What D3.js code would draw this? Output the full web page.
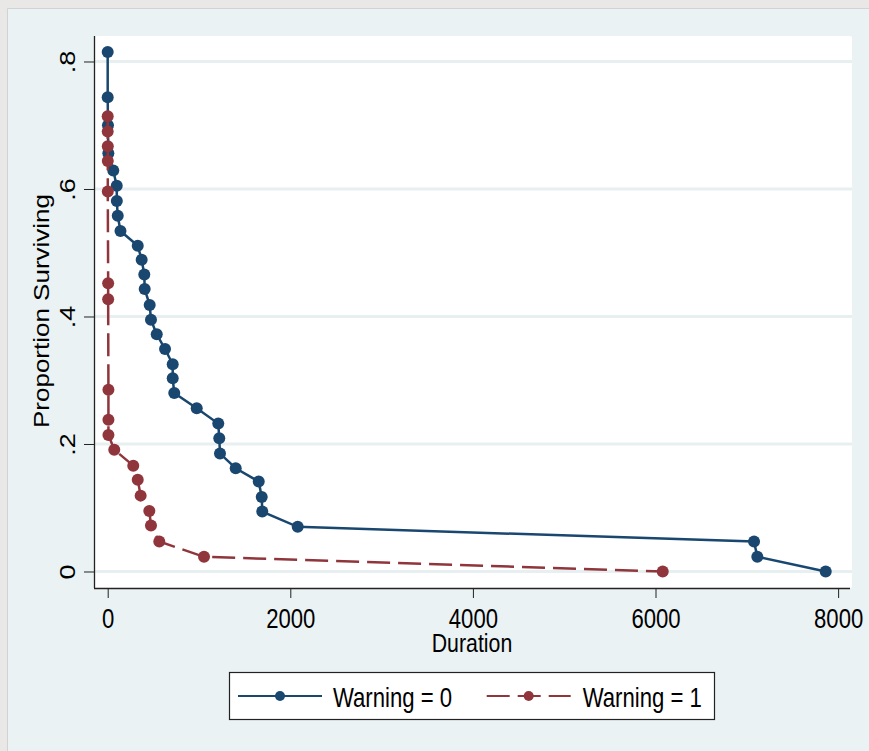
<!DOCTYPE html>
<html>
<head>
<meta charset="utf-8">
<script src="https://cdn.jsdelivr.net/npm/d3@7"></script>
<style>
  body { margin: 0; background: #e9e8e6; }
  svg { display: block; }
  text { font-family: "Liberation Sans", Arial, sans-serif; fill: #000; }
</style>
</head>
<body>
<div id="chart"></div>
<script>
// Kaplan-Meier style survival estimates
const dur0 = [0, 0, 3, 7, 61, 99, 100, 110, 140, 329, 372, 401, 405, 460, 474, 537, 628, 712, 712, 729, 975, 1211, 1222, 1230, 1402, 1654, 1687, 1693, 2081, 7079, 7115, 7864];
const surv0 = [0.815, 0.744, 0.700, 0.656, 0.629, 0.605, 0.581, 0.558, 0.534, 0.511, 0.489, 0.466, 0.443, 0.418, 0.395, 0.372, 0.349, 0.325, 0.303, 0.280, 0.256, 0.232, 0.209, 0.185, 0.162, 0.141, 0.117, 0.094, 0.070, 0.047, 0.023, 0];

const dur1 = [0, 0, 1, 1, 1, 5, 5, 8, 8, 8, 72, 280, 329, 361, 456, 474, 565, 1055, 6079];
const surv1 = [0.714, 0.690, 0.667, 0.644, 0.596, 0.452, 0.427, 0.285, 0.238, 0.214, 0.191, 0.166, 0.144, 0.119, 0.095, 0.072, 0.047, 0.023, 0];

const xTicks = [0, 2000, 4000, 6000, 8000];
const yTicks = [0, 0.2, 0.4, 0.6, 0.8];
const seriesNames = ["Warning = 0", "Warning = 1"];

const navy = "#1a476f";
const maroon = "#90353b";
const squeeze = 0.82;   // the original text is horizontally condensed

const W = 869, H = 751;
const plot = {left: 94, right: 852, top: 36, bottom: 588};

const svg = d3.select("#chart")
    .append("svg")
    .attr("width", W)
    .attr("height", H);

// graph region
svg.append("rect")
    .attr("x", 8).attr("y", 9)
    .attr("width", W - 8).attr("height", H - 9)
    .attr("fill", "#eaf2f3");
svg.append("path")
    .attr("d", `M7.5,${H} V8.5 H${W}`)
    .attr("fill", "none")
    .attr("stroke", "#d2d2d2");

// plot region
svg.append("rect")
    .attr("x", plot.left).attr("y", plot.top)
    .attr("width", plot.right - plot.left)
    .attr("height", plot.bottom - plot.top)
    .attr("rx", 2)
    .attr("fill", "white");

var x = d3.scaleLinear()
    .domain([-150, 8152])
    .range([plot.left, plot.right]);

var y = d3.scaleLinear()
    .domain([-0.0259, 0.840])
    .range([plot.bottom, plot.top]);

// gridlines
svg.append("g")
    .selectAll("line")
    .data(yTicks)
    .join("line")
    .attr("x1", plot.left)
    .attr("x2", plot.right)
    .attr("y1", d => y(d))
    .attr("y2", d => y(d))
    .attr("stroke", "#e7eff1")
    .attr("stroke-width", 3);

var xAxis = d3.axisBottom(x)
    .tickValues(xTicks)
    .tickSize(10)
    .tickPadding(11)
    .tickFormat(d3.format("d"));

var yAxis = d3.axisLeft(y)
    .tickValues(yTicks)
    .tickSize(10)
    .tickFormat(d => d === 0 ? "0" : d3.format(".1f")(d).replace(/^0/, ""));

svg.append("g")
    .attr("transform", `translate(0, ${plot.bottom})`)
    .call(xAxis)
    .call(g => g.select(".domain")
        .attr("d", `M${plot.left},0.5 H${plot.right - 2}`)
        .attr("stroke", "#222")
        .attr("stroke-width", 1.3))
    .call(g => g.selectAll(".tick line").attr("stroke", "#222"))
    .call(g => g.selectAll(".tick text")
        .attr("font-size", 27)
        .attr("font-family", "Liberation Sans, Arial, sans-serif")
        .attr("transform", `scale(${squeeze},1)`));

svg.append("g")
    .attr("transform", `translate(${plot.left}, 0)`)
    .call(yAxis)
    .call(g => g.select(".domain")
        .attr("d", `M0.5,${plot.top} V${plot.bottom}`)
        .attr("stroke", "#222")
        .attr("stroke-width", 1.3))
    .call(g => g.selectAll(".tick line").attr("stroke", "#222"))
    .call(g => g.selectAll(".tick text")
        .attr("x", 0).attr("y", 0).attr("dy", 0)
        .attr("text-anchor", "middle")
        .attr("font-size", 27)
        .attr("font-family", "Liberation Sans, Arial, sans-serif")
        .attr("transform", `translate(-19.5,0) scale(${squeeze},1) rotate(-90)`));

// axis titles
svg.append("text")
    .attr("transform", `translate(49, 311) scale(${squeeze},1) rotate(-90)`)
    .attr("text-anchor", "middle")
    .attr("font-size", 26)
    .text("Proportion Surviving");

svg.append("text")
    .attr("transform", `translate(472, 652) scale(${squeeze},1)`)
    .attr("text-anchor", "middle")
    .attr("font-size", 26)
    .text("Duration");

// survival curves
const data0 = dur0.map((d, i) => ({t: d, s: surv0[i]}));
const data1 = dur1.map((d, i) => ({t: d, s: surv1[i]}));

const line = d3.line()
    .x(d => x(d.t))
    .y(d => y(d.s));

function drawSeries(data, color, dash) {
    svg.append("path")
        .datum(data)
        .attr("fill", "none")
        .attr("stroke", color)
        .attr("stroke-width", 2.5)
        .attr("stroke-dasharray", dash)
        .attr("d", line);

    svg.append("g")
        .selectAll("circle")
        .data(data)
        .join("circle")
        .attr("cx", d => x(d.t))
        .attr("cy", d => y(d.s))
        .attr("r", 6)
        .attr("fill", color);
}

drawSeries(data0, navy, null);
drawSeries(data1, maroon, "23,8");

// legend
const legend = svg.append("g");
legend.append("rect")
    .attr("x", 229.5).attr("y", 672.5)
    .attr("width", 485).attr("height", 47)
    .attr("fill", "white")
    .attr("stroke", "#222")
    .attr("stroke-width", 1.2);

const legendItems = [
    {name: seriesNames[0], color: navy, dash: null, x0: 238, tx: 333},
    {name: seriesNames[1], color: maroon, dash: "23,8", x0: 486.7, tx: 582.7}
];

legendItems.forEach(item => {
    legend.append("line")
        .attr("x1", item.x0).attr("x2", item.x0 + 84)
        .attr("y1", 696).attr("y2", 696)
        .attr("stroke", item.color)
        .attr("stroke-width", 2.2)
        .attr("stroke-dasharray", item.dash);
    legend.append("circle")
        .attr("cx", item.x0 + 42).attr("cy", 696)
        .attr("r", 5)
        .attr("fill", item.color);
    legend.append("text")
        .attr("transform", `translate(${item.tx}, 706.5) scale(${squeeze},1)`)
        .attr("font-size", 27)
        .text(item.name);
});
</script>
</body>
</html>
